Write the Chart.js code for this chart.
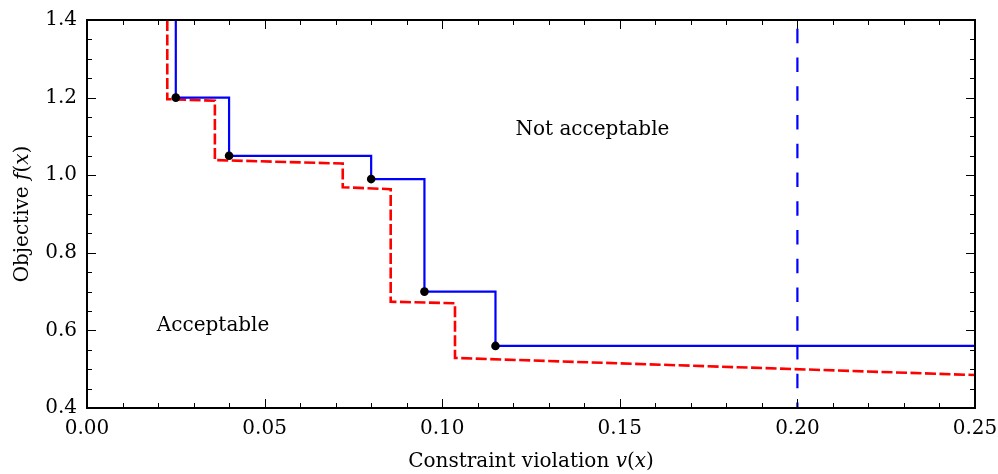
<!DOCTYPE html>
<html>
<head>
<meta charset="utf-8">
<script src="https://cdn.jsdelivr.net/npm/chart.js@4/dist/chart.umd.min.js"></script>
<style>
  html, body { margin: 0; padding: 0; background: #ffffff; }
  #wrap { width: 998px; height: 474px; }
</style>
</head>
<body>
<div id="wrap"><canvas id="chart" width="998" height="474"></canvas></div>
<script>
// Filter entries (constraint violation, objective)
const filterViolation = [0.025, 0.04, 0.08, 0.095, 0.115];
const filterObjective = [1.20, 1.05, 0.99, 0.70, 0.56];

// Sloped acceptance envelope, corner by corner
const envelopeViolation = [0.0226, 0.0226, 0.036, 0.036, 0.072, 0.072, 0.0855, 0.0855, 0.1036, 0.1036, 0.25];
const envelopeObjective = [1.40, 1.196, 1.192, 1.039, 1.030, 0.969, 0.964, 0.674, 0.670, 0.529, 0.485];

// Upper bound on the constraint violation
const violationBound = 0.20;

// Axis ticks
const xTicks = [0.00, 0.05, 0.10, 0.15, 0.20, 0.25];
const yTicks = [0.4, 0.6, 0.8, 1.0, 1.2, 1.4];
const xMinorStep = 0.01;
const yMinorStep = 0.05;

// Region annotations: [text, v, f] (text centred on v, baseline on f)
const regionLabels = [
  ['Not acceptable', 0.1423, 1.1036],
  ['Acceptable', 0.0355, 0.598]
];

const SERIF = '"DejaVu Serif", "Liberation Serif", serif';
const FONT_SIZE = 20;

// Filter staircase: down from the top edge, then across to each next entry
const filterLine = [{ x: filterViolation[0], y: yTicks[yTicks.length - 1] }];
filterViolation.forEach((v, i) => filterLine.push({ x: v, y: filterObjective[i] }));
filterLine.push({ x: xTicks[xTicks.length - 1], y: filterObjective[filterObjective.length - 1] });

const envelopeLine = envelopeViolation.map((v, i) => ({ x: v, y: envelopeObjective[i] }));
const filterPoints = filterViolation.map((v, i) => ({ x: v, y: filterObjective[i] }));
const boundLine = [
  { x: violationBound, y: yTicks[yTicks.length - 1] },
  { x: violationBound, y: yTicks[0] }
];

// Frame with inward major/minor ticks on all four sides
const framePlugin = {
  id: 'frame',
  afterDraw(chart) {
    const { ctx, chartArea: a, scales: { x, y } } = chart;
    ctx.save();
    ctx.strokeStyle = '#000';
    ctx.lineWidth = 1;
    const tick = (px, py, dx, dy) => {
      ctx.beginPath();
      ctx.moveTo(px, py);
      ctx.lineTo(px + dx, py + dy);
      ctx.stroke();
    };
    const major = 9, minor = 5;
    const nx = Math.round((x.max - x.min) / xMinorStep);
    for (let i = 0; i <= nx; i++) {
      const v = x.min + i * xMinorStep;
      const isMajor = xTicks.some(t => Math.abs(t - v) < 1e-9);
      const len = isMajor ? major : minor;
      const px = Math.round(x.getPixelForValue(v)) + 0.5;
      tick(px, a.bottom, 0, -len);
      tick(px, a.top, 0, len);
    }
    const ny = Math.round((y.max - y.min) / yMinorStep);
    for (let i = 0; i <= ny; i++) {
      const v = y.min + i * yMinorStep;
      const isMajor = yTicks.some(t => Math.abs(t - v) < 1e-9);
      const len = isMajor ? major : minor;
      const py = Math.round(y.getPixelForValue(v)) + 0.5;
      tick(a.left, py, len, 0);
      tick(a.right, py, -len, 0);
    }
    ctx.lineWidth = 2;
    ctx.strokeRect(a.left, a.top, a.right - a.left, a.bottom - a.top);
    ctx.restore();
  }
};

// Axis titles with italic math symbols, and region annotations
function drawRuns(ctx, runs, cx, cy) {
  let total = 0;
  runs.forEach(r => { ctx.font = r[1]; total += ctx.measureText(r[0]).width; });
  let px = cx - total / 2;
  runs.forEach(r => {
    ctx.font = r[1];
    ctx.fillText(r[0], px, cy);
    px += ctx.measureText(r[0]).width;
  });
}

const textPlugin = {
  id: 'texts',
  afterDraw(chart) {
    const { ctx, chartArea: a, scales: { x, y } } = chart;
    const up = `${FONT_SIZE}px ${SERIF}`;
    const it = `italic ${FONT_SIZE}px ${SERIF}`;
    ctx.save();
    ctx.fillStyle = '#000';
    ctx.textAlign = 'left';
    ctx.textBaseline = 'alphabetic';
    drawRuns(ctx, [['Constraint violation ', up], ['v', it], ['(', up], ['x', it], [')', up]],
      (a.left + a.right) / 2, 467);
    ctx.save();
    ctx.translate(28, (a.top + a.bottom) / 2);
    ctx.rotate(-Math.PI / 2);
    drawRuns(ctx, [['Objective ', up], ['f', it], ['(', up], ['x', it], [')', up]], 0, 0);
    ctx.restore();
    ctx.font = up;
    ctx.textAlign = 'center';
    regionLabels.forEach(([t, v, f]) => {
      ctx.fillText(t, x.getPixelForValue(v), y.getPixelForValue(f));
    });
    ctx.restore();
  }
};

new Chart(document.getElementById('chart'), {
  type: 'line',
  data: {
    datasets: [
      {
        label: 'Envelope',
        data: envelopeLine,
        borderColor: '#ff0000',
        borderWidth: 2.6,
        borderDash: [11, 3.5],
        pointRadius: 0,
        fill: false,
        tension: 0,
        order: 3
      },
      {
        label: 'Filter',
        data: filterLine,
        borderColor: '#0000ff',
        borderWidth: 2.2,
        stepped: 'before',
        pointRadius: 0,
        fill: false,
        order: 2
      },
      {
        label: 'Bound',
        data: boundLine,
        borderColor: '#0000ff',
        borderWidth: 2.2,
        borderDash: [14.5, 14.25],
        borderDashOffset: 20,
        pointRadius: 0,
        fill: false,
        order: 4
      },
      {
        label: 'Entries',
        type: 'scatter',
        data: filterPoints,
        backgroundColor: '#000',
        borderColor: '#000',
        pointRadius: 4.3,
        pointBorderWidth: 0,
        order: 1
      }
    ]
  },
  options: {
    responsive: false,
    devicePixelRatio: 1,
    animation: false,
    layout: { padding: { top: 20, right: 23, left: 0, bottom: 0 } },
    plugins: {
      legend: { display: false },
      tooltip: { enabled: false },
      title: { display: false }
    },
    scales: {
      x: {
        type: 'linear',
        min: xTicks[0],
        max: xTicks[xTicks.length - 1],
        afterBuildTicks: s => { s.ticks = xTicks.map(v => ({ value: v })); },
        afterFit: s => { s.height = 66; s.paddingLeft = 0; s.paddingRight = 0; },
        grid: { display: false, drawTicks: false },
        border: { display: false },
        ticks: {
          padding: 9,
          color: '#000',
          font: { family: SERIF, size: FONT_SIZE },
          maxRotation: 0,
          callback: v => Number(v).toFixed(2)
        }
      },
      y: {
        type: 'linear',
        min: yTicks[0],
        max: yTicks[yTicks.length - 1],
        afterBuildTicks: s => { s.ticks = yTicks.map(v => ({ value: v })); },
        afterFit: s => { s.width = 87; s.paddingTop = 0; s.paddingBottom = 0; },
        grid: { display: false, drawTicks: false },
        border: { display: false },
        ticks: {
          padding: 10,
          color: '#000',
          font: { family: SERIF, size: FONT_SIZE },
          callback: v => Number(v).toFixed(1)
        }
      }
    }
  },
  plugins: [framePlugin, textPlugin]
});
</script>
</body>
</html>
